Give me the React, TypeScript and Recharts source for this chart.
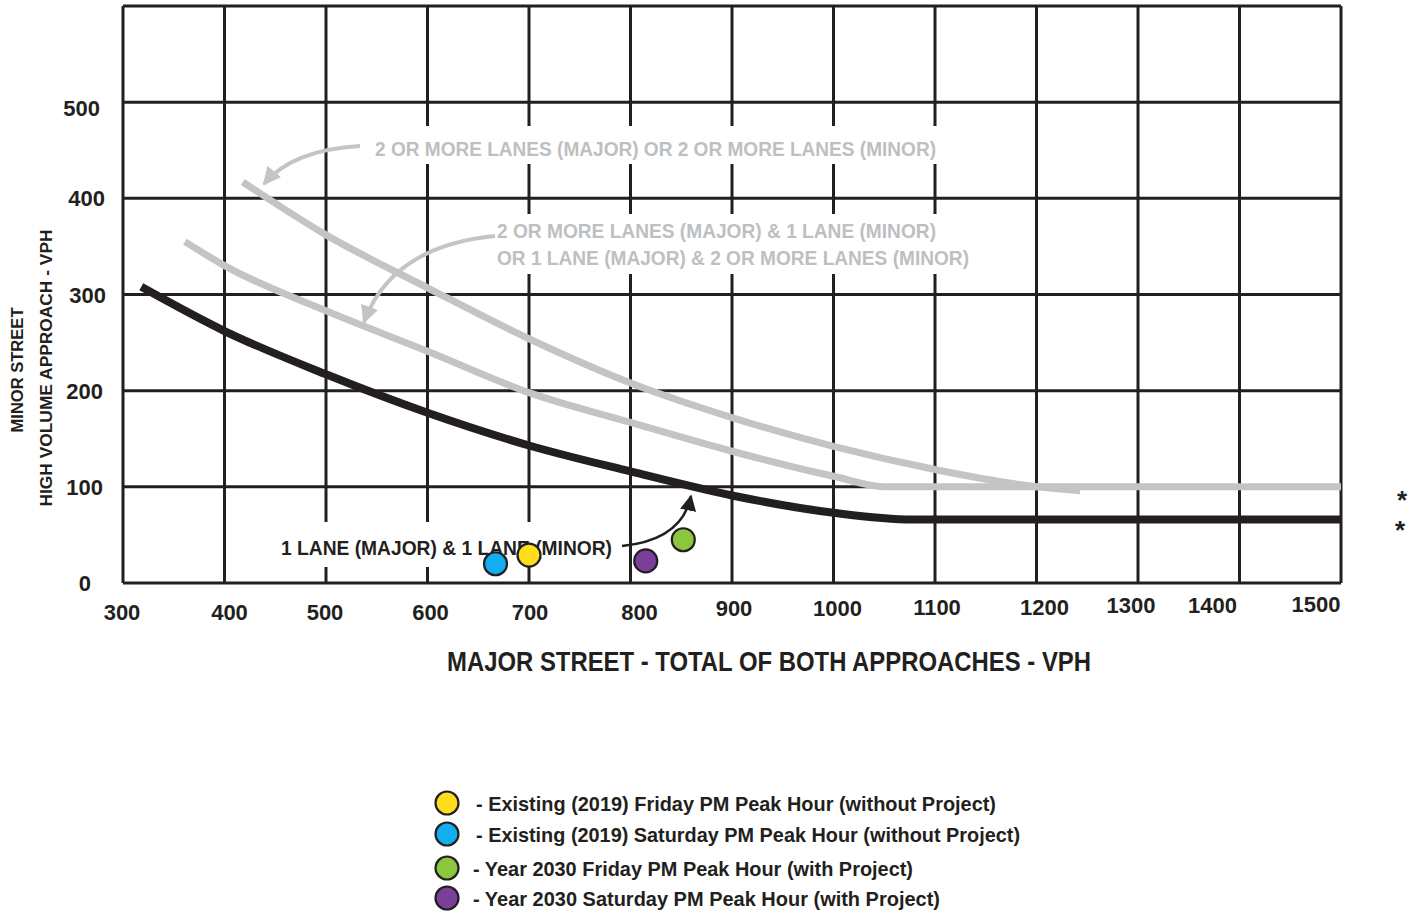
import React from "react";
import { ComposedChart, Line, Scatter, XAxis, YAxis, CartesianGrid, Customized, Legend } from "recharts";

const INK = "#231f20";
const GRAY = "#c2c4c6";
const GRAY_TEXT = "#bdbfc1";
const FONT = "'Liberation Sans Narrow', 'Arial Narrow', 'Liberation Sans', sans-serif";

const xTicks = [300, 400, 500, 600, 700, 800, 900, 1000, 1100, 1200, 1300, 1400, 1500];
const yTicks = [0, 100, 200, 300, 400, 500, 600];

// threshold curves (major vph, minor vph)
const oneLaneCurve = [
  { x: 318, y: 308 }, { x: 400, y: 262 }, { x: 500, y: 217 }, { x: 600, y: 177 },
  { x: 700, y: 143 }, { x: 800, y: 116 }, { x: 900, y: 91 }, { x: 1000, y: 73 },
  { x: 1078, y: 66 }, { x: 1500, y: 66 },
];
const mixedLaneCurve = [
  { x: 361, y: 355 }, { x: 400, y: 330 }, { x: 500, y: 283 }, { x: 600, y: 241 },
  { x: 700, y: 198 }, { x: 800, y: 167 }, { x: 900, y: 137 }, { x: 1000, y: 111 },
  { x: 1052, y: 100 }, { x: 1500, y: 100 },
];
const twoLaneCurve = [
  { x: 418, y: 417 }, { x: 500, y: 362 }, { x: 600, y: 307 }, { x: 700, y: 254 },
  { x: 800, y: 208 }, { x: 900, y: 172 }, { x: 1000, y: 142 }, { x: 1100, y: 118 },
  { x: 1200, y: 100 }, { x: 1243, y: 96 },
];

const existingFriday = [{ x: 700, y: 29 }];
const existingSaturday = [{ x: 667, y: 20 }];
const futureFriday = [{ x: 852, y: 45 }];
const futureSaturday = [{ x: 815, y: 23 }];

const seriesNames = [
  "Existing (2019) Friday PM Peak Hour (without Project)",
  "Existing (2019) Saturday PM Peak Hour (without Project)",
  "Year 2030 Friday PM Peak Hour (with Project)",
  "Year 2030 Saturday PM Peak Hour (with Project)",
];
const seriesColors = ["#ffdd1c", "#12aeef", "#8cc63f", "#7b3f99"];

const PLOT_BOTTOM = 583;

// label nudges so tick text sits where the printed figure has it
const X_TICK_NUDGE: Record<number, [number, number]> = {
  300: [-1, 29], 400: [5, 29], 500: [-1, 29], 600: [3, 29], 700: [1, 29], 800: [9, 29],
  900: [2, 25], 1000: [4, 25], 1100: [2, 24], 1200: [8, 24], 1300: [-7, 22], 1400: [-27, 22], 1500: [-25, 21],
};
const Y_TICK_NUDGE: Record<number, [number, number]> = {
  0: [-13, 0], 100: [-1, 0], 200: [-1, 0], 300: [2, 0], 400: [1, 0], 500: [-4, 6],
};

function XTick(props: any) {
  const { x, payload } = props;
  const [dx, dy] = X_TICK_NUDGE[payload.value] ?? [0, 29];
  return (
    <text x={x + dx} y={PLOT_BOTTOM + dy + 8} textAnchor="middle" fontFamily={FONT} fontWeight="bold" fontSize={22} fill={INK}>
      {payload.value}
    </text>
  );
}

function YTick(props: any) {
  const { y, payload } = props;
  if (payload.value === 600) return null;
  const [dx, dy] = Y_TICK_NUDGE[payload.value] ?? [0, 0];
  return (
    <text x={104 + dx} y={y + dy + 8} textAnchor="end" fontFamily={FONT} fontWeight="bold" fontSize={22} fill={INK}>
      {payload.value}
    </text>
  );
}

function Bubble(props: any) {
  const { cx, cy, fill } = props;
  return <circle cx={cx} cy={cy} r={11.5} fill={fill} stroke={INK} strokeWidth={2.2} />;
}

function Annotations() {
  return (
    <g>
      <defs>
        <marker id="headGray" viewBox="0 0 10 10" refX="9" refY="5" markerWidth="4.5" markerHeight="4.5" orient="auto" markerUnits="strokeWidth">
          <path d="M0,0 L10,5 L0,10 z" fill={GRAY} />
        </marker>
        <marker id="headInk" viewBox="0 0 10 10" refX="9" refY="5" markerWidth="6.5" markerHeight="6.5" orient="auto" markerUnits="strokeWidth">
          <path d="M0,0 L10,5 L0,10 z" fill={INK} />
        </marker>
      </defs>
      <rect x={365} y={126} width={580} height={38} fill="#fff" />
      <rect x={490} y={214} width={485} height={60} fill="#fff" />
      <rect x={272} y={522} width={350} height={45} fill="#fff" />

      <text x={375} y={156} fontFamily={FONT} fontWeight="bold" fontSize={21} fill={GRAY_TEXT} textLength={561} lengthAdjust="spacingAndGlyphs">
        2 OR MORE LANES (MAJOR) OR 2 OR MORE LANES (MINOR)
      </text>
      <text x={497} y={238} fontFamily={FONT} fontWeight="bold" fontSize={21} fill={GRAY_TEXT} textLength={439} lengthAdjust="spacingAndGlyphs">
        2 OR MORE LANES (MAJOR) &amp; 1 LANE (MINOR)
      </text>
      <text x={497} y={265} fontFamily={FONT} fontWeight="bold" fontSize={21} fill={GRAY_TEXT} textLength={472} lengthAdjust="spacingAndGlyphs">
        OR 1 LANE (MAJOR) &amp; 2 OR MORE LANES (MINOR)
      </text>
      <text x={281} y={555} fontFamily={FONT} fontWeight="bold" fontSize={20} fill={INK} textLength={331} lengthAdjust="spacingAndGlyphs">
        1 LANE (MAJOR) &amp; 1 LANE (MINOR)
      </text>

      <path d="M360,146 Q292,150 264,184" fill="none" stroke={GRAY} strokeWidth={4} markerEnd="url(#headGray)" />
      <path d="M495,236 Q392,246 364,322" fill="none" stroke={GRAY} strokeWidth={4} markerEnd="url(#headGray)" />
      <path d="M622,546 Q682,540 691,496" fill="none" stroke={INK} strokeWidth={2.5} markerEnd="url(#headInk)" />

      <text x={1402} y={509} textAnchor="middle" fontFamily={FONT} fontWeight="bold" fontSize={26} fill={INK}>*</text>
      <text x={1400} y={539} textAnchor="middle" fontFamily={FONT} fontWeight="bold" fontSize={26} fill={INK}>*</text>

      <text x={769} y={671} textAnchor="middle" fontFamily={FONT} fontWeight="bold" fontSize={28} fill={INK} textLength={644} lengthAdjust="spacingAndGlyphs">
        MAJOR STREET - TOTAL OF BOTH APPROACHES - VPH
      </text>
      <text x={17} y={376} transform="rotate(-90 17 370)" textAnchor="middle" fontFamily={FONT} fontWeight="bold" fontSize={17} fill={INK} textLength={125} lengthAdjust="spacingAndGlyphs">
        MINOR STREET
      </text>
      <text x={46} y={374} transform="rotate(-90 46 368)" textAnchor="middle" fontFamily={FONT} fontWeight="bold" fontSize={17} fill={INK} textLength={277} lengthAdjust="spacingAndGlyphs">
        HIGH VOLUME APPROACH - VPH
      </text>
    </g>
  );
}

const LEGEND_LEFT = 420;
const LEGEND_TOP = 780;
const ROW_Y = [803, 834, 868, 898];
const ROW_TEXT_X = [476, 476, 473, 473];
const ROW_TEXT_W = [520, 544, 440, 467];

function LegendBox(props: any) {
  const payload = (props.payload ?? []).filter((p: any) => p.type !== "none");
  return (
    <svg width={640} height={137} style={{ display: "block" }}>
      {payload.map((p: any, i: number) => (
        <g key={p.value}>
          <circle cx={447 - LEGEND_LEFT} cy={ROW_Y[i] - LEGEND_TOP} r={11.5} fill={seriesColors[i]} stroke={INK} strokeWidth={2.2} />
          <text
            x={ROW_TEXT_X[i] - LEGEND_LEFT}
            y={ROW_Y[i] - LEGEND_TOP + 7.5}
            fontFamily={FONT}
            fontWeight="bold"
            fontSize={21}
            fill={INK}
            textLength={ROW_TEXT_W[i]}
            lengthAdjust="spacingAndGlyphs"
          >
            {"- " + p.value}
          </text>
        </g>
      ))}
    </svg>
  );
}

export default function App() {
  return (
    <div style={{ position: "absolute", left: 0, top: 0, background: "#fff" }}>
      <ComposedChart width={1424} height={917} margin={{ top: 6, right: 83, bottom: 0, left: 0 }}>
        <CartesianGrid stroke={INK} strokeWidth={3} />
        <XAxis
          type="number"
          dataKey="x"
          domain={[300, 1500]}
          ticks={xTicks}
          interval={0}
          height={334}
          axisLine={false}
          tickLine={false}
          tick={<XTick />}
          allowDataOverflow
        />
        <YAxis
          type="number"
          dataKey="y"
          domain={[0, 600]}
          ticks={yTicks}
          interval={0}
          width={123}
          axisLine={false}
          tickLine={false}
          tick={<YTick />}
          allowDataOverflow
        />
        <Customized component={Annotations} />
        <Line data={twoLaneCurve} dataKey="y" type="monotone" stroke={GRAY} strokeWidth={7} dot={false} legendType="none" isAnimationActive={false} />
        <Line data={mixedLaneCurve} dataKey="y" type="monotone" stroke={GRAY} strokeWidth={7} dot={false} legendType="none" isAnimationActive={false} />
        <Line data={oneLaneCurve} dataKey="y" type="monotone" stroke={INK} strokeWidth={8} dot={false} legendType="none" isAnimationActive={false} />
        <Scatter name={seriesNames[0]} data={existingFriday} fill={seriesColors[0]} shape={<Bubble />} isAnimationActive={false} />
        <Scatter name={seriesNames[1]} data={existingSaturday} fill={seriesColors[1]} shape={<Bubble />} isAnimationActive={false} />
        <Scatter name={seriesNames[2]} data={futureFriday} fill={seriesColors[2]} shape={<Bubble />} isAnimationActive={false} />
        <Scatter name={seriesNames[3]} data={futureSaturday} fill={seriesColors[3]} shape={<Bubble />} isAnimationActive={false} />
        <Legend
          layout="vertical"
          align="center"
          verticalAlign="middle"
          content={<LegendBox />}
          wrapperStyle={{ position: "absolute", left: LEGEND_LEFT, top: LEGEND_TOP, width: 640, height: 137 }}
        />
      </ComposedChart>
    </div>
  );
}
